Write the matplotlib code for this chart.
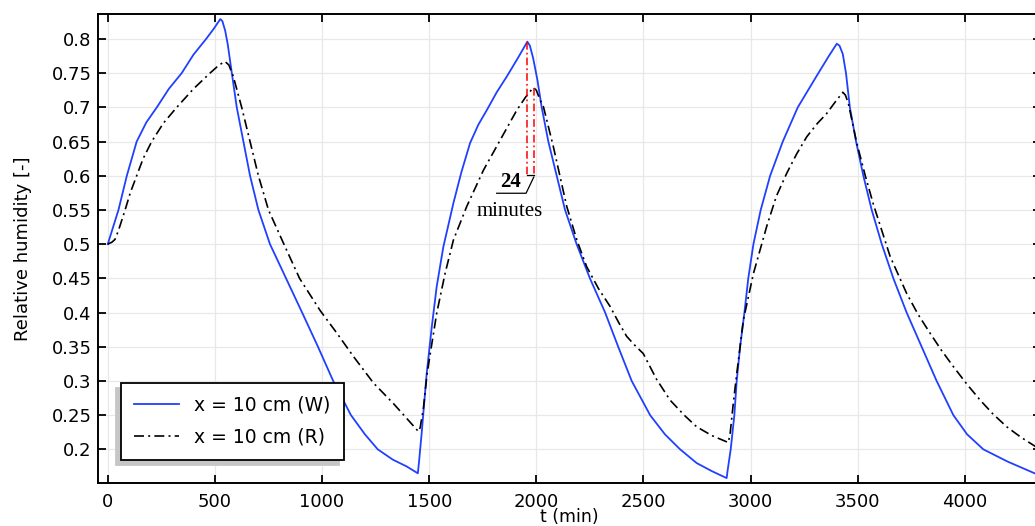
import matplotlib
matplotlib.use('Agg')
import matplotlib.pyplot as plt

# x = 10 cm (W): time [min], relative humidity [-]
t_w = [0, 20, 50, 89, 135, 180, 229, 285, 345, 400, 459, 495, 525, 535, 548,
       560, 579, 602, 633, 664, 703, 757, 832, 907, 981, 1052, 1135, 1200,
       1260, 1330, 1395, 1447, 1452, 1465, 1488, 1512, 1535, 1566, 1613, 1650,
       1691, 1730, 1769, 1815, 1862, 1910, 1958, 1970, 1985, 2005, 2025, 2056,
       2095, 2134, 2188, 2250, 2321, 2382, 2445, 2531, 2600, 2671, 2748, 2820,
       2888, 2893, 2907, 2924, 2935, 2951, 2971, 2989, 3013, 3047, 3091, 3150,
       3220, 3316, 3365, 3402, 3415, 3430, 3445, 3463, 3492, 3526, 3565, 3612,
       3666, 3728, 3798, 3868, 3946, 4010, 4086, 4200, 4340]
rh_w = [0.500, 0.520, 0.550, 0.600, 0.650, 0.678, 0.700, 0.727, 0.750, 0.777,
        0.800, 0.815, 0.829, 0.826, 0.812, 0.792, 0.750, 0.700, 0.650, 0.600,
        0.550, 0.500, 0.450, 0.400, 0.350, 0.300, 0.250, 0.222, 0.200, 0.185,
        0.175, 0.165, 0.180, 0.224, 0.310, 0.379, 0.438, 0.496, 0.560, 0.605,
        0.648, 0.675, 0.696, 0.722, 0.745, 0.770, 0.796, 0.790, 0.772, 0.740,
        0.700, 0.650, 0.600, 0.550, 0.500, 0.450, 0.400, 0.350, 0.300, 0.250,
        0.222, 0.200, 0.180, 0.168, 0.158, 0.170, 0.200, 0.250, 0.300, 0.350,
        0.400, 0.450, 0.500, 0.550, 0.600, 0.650, 0.700, 0.750, 0.775, 0.793,
        0.790, 0.778, 0.750, 0.700, 0.650, 0.600, 0.550, 0.500, 0.450, 0.400,
        0.350, 0.300, 0.250, 0.222, 0.200, 0.182, 0.163]

# x = 10 cm (R)
t_r = [0, 20, 34, 50, 81, 105, 135, 165, 205, 260, 322, 400, 477, 520, 547,
       565, 586, 625, 664, 703, 750, 822, 895, 991, 1069, 1146, 1240, 1333,
       1450, 1458, 1473, 1490, 1504, 1535, 1574, 1613, 1675, 1753, 1831, 1909,
       1950, 1986, 2000, 2017, 2033, 2079, 2142, 2190, 2235, 2290, 2344, 2385,
       2422, 2460, 2499, 2560, 2624, 2690, 2748, 2820, 2896, 2905, 2920, 2935,
       2966, 3013, 3075, 3120, 3169, 3215, 3262, 3310, 3355, 3395, 3430, 3442,
       3456, 3495, 3535, 3573, 3651, 3728, 3780, 3837, 3890, 3946, 4010, 4071,
       4130, 4195, 4260, 4340]
rh_r = [0.500, 0.503, 0.507, 0.520, 0.550, 0.575, 0.600, 0.625, 0.650, 0.677,
        0.700, 0.727, 0.750, 0.762, 0.767, 0.762, 0.745, 0.700, 0.650, 0.600,
        0.550, 0.500, 0.450, 0.403, 0.370, 0.336, 0.297, 0.267, 0.226, 0.232,
        0.260, 0.310, 0.338, 0.399, 0.457, 0.506, 0.555, 0.608, 0.652, 0.696,
        0.715, 0.729, 0.725, 0.711, 0.701, 0.643, 0.555, 0.505, 0.467, 0.435,
        0.409, 0.385, 0.365, 0.352, 0.340, 0.303, 0.272, 0.250, 0.233, 0.220,
        0.210, 0.225, 0.270, 0.310, 0.389, 0.457, 0.526, 0.570, 0.604, 0.632,
        0.657, 0.676, 0.691, 0.708, 0.722, 0.718, 0.706, 0.648, 0.600, 0.558,
        0.482, 0.428, 0.398, 0.370, 0.345, 0.321, 0.295, 0.272, 0.252, 0.233,
        0.218, 0.202]

# peak times for the time-lag annotation
peak_w = (1958, 0.796)
peak_r = (1991, 0.729)
lag_base = 0.601

fig = plt.figure(figsize=(10.35, 5.26), dpi=100)
ax = fig.add_axes([0.095, 0.0812, 0.9108, 0.8916])

ax.plot(t_w, rh_w, color='#2040ff', lw=1.3, label='x = 10 cm (W)')
ax.plot(t_r, rh_r, color='black', lw=1.2, dashes=(6, 2.5, 1.2, 2.5),
        label='x = 10 cm (R)')

# lag between the two peaks
ax.plot([peak_w[0], peak_w[0]], [peak_w[1], lag_base], color='red', lw=1.1,
        dashes=(5, 2, 1.2, 2))
ax.plot([peak_r[0], peak_r[0]], [peak_r[1], lag_base], color='red', lw=1.1,
        dashes=(5, 2, 1.2, 2))
ax.plot([peak_w[0], peak_r[0]], [lag_base, lag_base], color='black', lw=0.9)
ax.plot([peak_r[0] - 3, 1952, 1815], [lag_base - 0.003, 0.5744, 0.5744],
        color='black', lw=0.9)
ax.text(1878, 0.576, '24', family='Liberation Serif', fontsize=15,
        fontweight='bold', ha='center', va='bottom')
ax.text(1878, 0.5475, 'minutes', family='Liberation Serif', fontsize=15,
        ha='center', va='center')

ax.set_xlim(-44, 4355)
ax.set_ylim(0.1504, 0.836)
ax.set_xticks([0, 500, 1000, 1500, 2000, 2500, 3000, 3500, 4000])
ax.set_yticks([0.2, 0.25, 0.3, 0.35, 0.4, 0.45, 0.5, 0.55, 0.6, 0.65, 0.7,
               0.75, 0.8])
ax.set_yticklabels(['0.2', '0.25', '0.3', '0.35', '0.4', '0.45', '0.5', '0.55',
                    '0.6', '0.65', '0.7', '0.75', '0.8'])
ax.grid(True, color='#e8e8e8', lw=0.9)
ax.set_axisbelow(True)
ax.tick_params(direction='in', length=6, width=1.3, top=True, right=True,
               labelsize=13)
ax.tick_params(axis='x', pad=7)
ax.tick_params(axis='y', pad=5)
for s in ax.spines.values():
    s.set_linewidth(1.4)

ax.set_xlabel('t (min)', fontsize=12.5)
ax.xaxis.set_label_coords(0.5, -0.0715)
ax.xaxis.label.set_va('center')
ax.set_ylabel('Relative humidity [-]', fontsize=13, labelpad=14)

leg = ax.legend(loc='lower left', bbox_to_anchor=(0.024, 0.0497),
                borderaxespad=0, fontsize=13.5, fancybox=False, framealpha=1,
                edgecolor='black', handlelength=2.4, labelspacing=0.7,
                borderpad=0.7,
                shadow={'ox': -3.6, 'oy': -3.6, 'facecolor': '#c6c6c6',
                        'edgecolor': '#c6c6c6', 'alpha': 1})
leg.get_frame().set_linewidth(1.3)

fig.savefig('out.png', dpi=100)
